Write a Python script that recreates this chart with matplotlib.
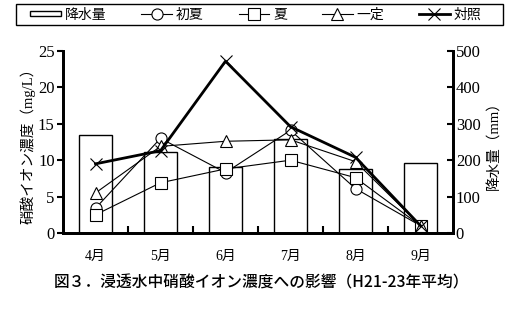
import matplotlib
matplotlib.use("Agg")
import matplotlib.pyplot as plt
from matplotlib.patches import Patch, Rectangle
from matplotlib.lines import Line2D
from matplotlib.legend_handler import HandlerPatch
import numpy as np

months = ["4月", "5月", "6月", "7月", "8月", "9月"]
rain = [268, 222, 181, 257, 176, 191]
shoka = [3.4, 13.0, 8.3, 14.1, 6.1, 1.0]
natsu = [2.5, 6.9, 8.8, 10.0, 7.6, 1.0]
ittei = [5.5, 11.9, 12.6, 12.8, 9.8, 1.0]
taisho = [9.5, 11.3, 23.6, 14.6, 10.4, 1.0]
left_ticks = [0, 5, 10, 15, 20, 25]
right_ticks = [0, 100, 200, 300, 400, 500]

serif = ["Liberation Serif", "Noto Sans CJK JP"]
jp = ["Noto Sans CJK JP", "DejaVu Sans"]

fig = plt.figure(figsize=(5.18, 3.15), dpi=100)
ax = fig.add_axes([63/518, 1-233/315, 390/518, 182/315])
axr = ax.twinx()
ax.set_zorder(axr.get_zorder() + 1)
ax.patch.set_visible(False)

x = np.arange(len(months))
axr.bar(x, rain, width=0.5, facecolor="white", edgecolor="black", linewidth=1.0)
axr.set_ylim(0, 500)
axr.set_yticks(right_ticks)
ax.set_xlim(-0.5, 5.5)
ax.set_ylim(0, 25)
ax.set_yticks(left_ticks)

mk = dict(markerfacecolor="white", markeredgecolor="black", color="black", linewidth=0.8, markersize=8, markeredgewidth=0.8)
ax.plot(x, shoka, marker="o", **mk)
ax.plot(x, natsu, marker="s", **mk)
ax.plot(x, ittei, marker="^", **{**mk, "markersize": 9})
ax.plot(x, taisho, marker="x", color="black", linewidth=2.0, markersize=9, markeredgewidth=0.8)

for a in (ax, axr):
    a.spines["top"].set_visible(False)
    a.spines["left"].set_linewidth(2)
    a.spines["bottom"].set_linewidth(2)
    a.spines["right"].set_linewidth(2)

ax.set_xticks(x)
ax.set_xticklabels(months, fontfamily=serif, fontsize=10)
ax.tick_params(axis="x", length=0, pad=12)
ax.set_xticks(np.arange(-0.5, 6.0, 1.0)[1:-1], minor=True)
ax.tick_params(axis="x", which="minor", direction="in", length=5, width=1.5)
ax.tick_params(axis="y", direction="out", length=4, width=1.5, labelsize=12, pad=2)
axr.tick_params(axis="y", direction="in", length=4, width=1.5, labelsize=12, pad=2)
for lab in ax.get_yticklabels() + axr.get_yticklabels():
    lab.set_fontfamily(serif)

ax.set_ylabel("硝酸イオン濃度（mg/L）", fontfamily=serif, fontsize=10.5, labelpad=2)
axr.set_ylabel("降水量（mm）", fontfamily=serif, fontsize=10.5, labelpad=5)


def flat_rect(legend, orig_handle, xdescent, ydescent, width, height, fontsize):
    h = height * 0.45
    return Rectangle((-xdescent, -ydescent + (height - h) / 2), width, h)


handles = [
    Patch(facecolor="white", edgecolor="black", linewidth=1.0),
    Line2D([], [], marker="o", **mk),
    Line2D([], [], marker="s", **mk),
    Line2D([], [], marker="^", **mk),
    Line2D([], [], marker="x", color="black", linewidth=2.0, markersize=8, markeredgewidth=0.8),
]
labels = ["降水量", "初夏", "夏", "一定", "対照"]
leg = fig.legend(handles, labels, loc="center", ncol=5,
                 bbox_to_anchor=(256/518, 1-14.5/315),
                 prop={"family": jp, "size": 10}, frameon=False,
                 handlelength=2.2, handletextpad=0.3, columnspacing=2.5,
                 borderpad=0, borderaxespad=0,
                 handler_map={Patch: HandlerPatch(patch_func=flat_rect)})
fig.patches.append(Rectangle((16/518, 1-25/315), 487/518, 21/315, transform=fig.transFigure,
                             facecolor="none", edgecolor="black", linewidth=1.0))

fig.text(261/518, 1-283/315, "図３．浸透水中硝酸イオン濃度への影響（H21-23年平均）",
         ha="center", va="center", fontfamily=jp, fontsize=11.3, fontweight="medium")

fig.savefig("out.png", dpi=100)
